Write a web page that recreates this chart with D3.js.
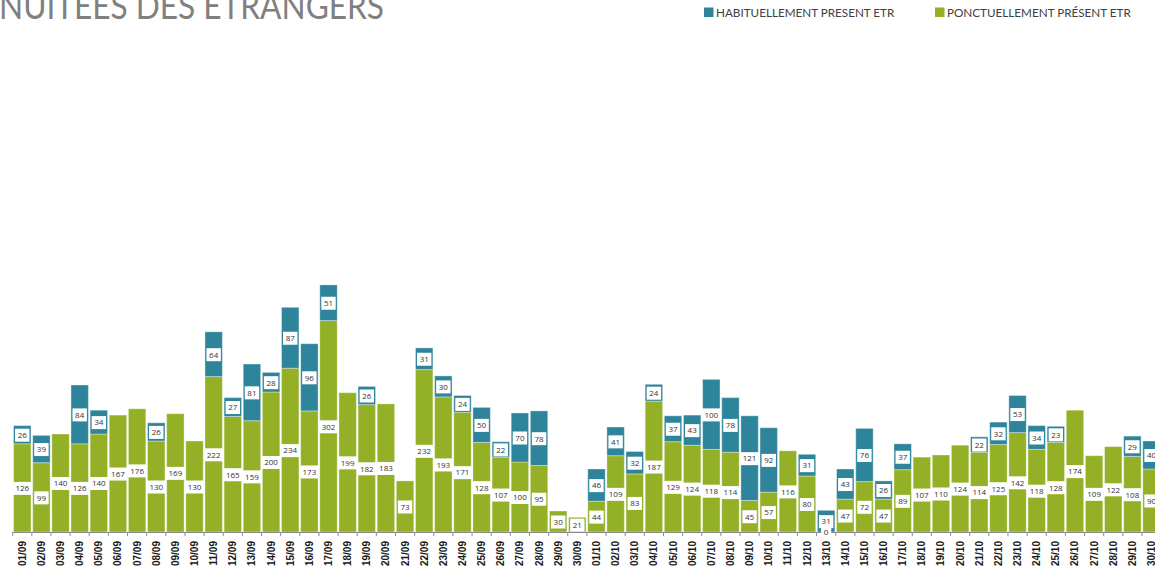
<!DOCTYPE html>
<html>
<head>
<meta charset="utf-8">
<script src="https://cdn.jsdelivr.net/npm/d3@7/dist/d3.min.js"></script>
<style>
  html, body { margin: 0; padding: 0; background: #fff; overflow: hidden; }
  svg { display: block; }
</style>
</head>
<body>
<svg id="chart" width="1155" height="570"></svg>
<script>
const dates = ["01/09","02/09","03/09","04/09","05/09","06/09","07/09","08/09","09/09","10/09",
  "11/09","12/09","13/09","14/09","15/09","16/09","17/09","18/09","19/09","20/09",
  "21/09","22/09","23/09","24/09","25/09","26/09","27/09","28/09","29/09","30/09",
  "01/10","02/10","03/10","04/10","05/10","06/10","07/10","08/10","09/10","10/10",
  "11/10","12/10","13/10","14/10","15/10","16/10","17/10","18/10","19/10","20/10",
  "21/10","22/10","23/10","24/10","25/10","26/10","27/10","28/10","29/10","30/10"];

const ponctuel = [126,99,140,126,140,167,176,130,169,130,
  222,165,159,200,234,173,302,199,182,183,
  73,232,193,171,128,107,100,95,30,21,
  44,109,83,187,129,124,118,114,45,57,
  116,80,0,47,72,47,89,107,110,124,
  114,125,142,118,128,174,109,122,108,90];

const habituel = [26,39,0,84,34,0,0,26,0,0,
  64,27,81,28,87,96,51,0,26,0,
  0,31,30,24,50,22,70,78,0,0,
  46,41,32,24,37,43,100,78,121,92,
  0,31,31,43,76,26,37,0,0,0,
  22,32,53,34,23,0,0,0,29,40];

const seriesNames = ["HABITUELLEMENT PRESENT ETR", "PONCTUELLEMENT PRÉSENT ETR"];
const colors = { hab: "#2E859B", ponc: "#93B026" };
const title = "NUITÉES DES ÉTRANGERS";

const svg = d3.select("#chart");
const baseY = 532;
const y = d3.scaleLinear().domain([0, 700]).range([baseY, 42]);
const step = 19.14;
const x0 = 12.7;
const x = d3.scaleBand().domain(dates).range([x0, x0 + step * dates.length])
  .paddingInner(0.09).paddingOuter(0.045);

const rows = dates.map((d, i) => ({ date: d, ponc: ponctuel[i], hab: habituel[i] }));

// Title
svg.append("text")
  .attr("x", -1).attr("y", 19)
  .attr("font-family", "Lato, 'Open Sans', sans-serif")
  .attr("font-size", 36)
  .attr("fill", "#808080")
  .attr("textLength", 385)
  .attr("lengthAdjust", "spacingAndGlyphs")
  .text(title);

// Legend
const legend = [
  { name: seriesNames[0], color: colors.hab, x: 704 },
  { name: seriesNames[1], color: colors.ponc, x: 935 }
];
const lg = svg.append("g");
legend.forEach(l => {
  lg.append("rect").attr("x", l.x).attr("y", 7.5).attr("width", 9.5).attr("height", 9.5).attr("fill", l.color);
  lg.append("text").attr("x", l.x + 12).attr("y", 16.5)
    .attr("font-family", "Lato, 'Open Sans', sans-serif")
    .attr("font-size", 11.7).attr("fill", "#404040")
    .text(l.name);
});

// Bars
const g = svg.append("g");
const barG = g.selectAll("g.bar").data(rows).join("g").attr("class", "bar");

barG.append("rect")
  .attr("x", d => x(d.date))
  .attr("width", x.bandwidth())
  .attr("y", d => y(d.ponc))
  .attr("height", d => baseY - y(d.ponc))
  .attr("fill", colors.ponc)
  .attr("stroke", "rgba(255,255,255,0.35)")
  .attr("stroke-width", 1);

barG.filter(d => d.hab > 0).append("rect")
  .attr("x", d => x(d.date))
  .attr("width", x.bandwidth())
  .attr("y", d => y(d.ponc + d.hab))
  .attr("height", d => y(d.ponc) - y(d.ponc + d.hab))
  .attr("fill", colors.hab)
  .attr("stroke", "rgba(255,255,255,0.35)")
  .attr("stroke-width", 1);

// Axis line and ticks
const axisG = svg.append("g");
axisG.append("line")
  .attr("x1", x0).attr("x2", x0 + step * dates.length)
  .attr("y1", baseY + 0.5).attr("y2", baseY + 0.5)
  .attr("stroke", "#8c8c8c").attr("stroke-width", 1);
const tickPos = d3.range(dates.length + 1).map(i => x0 + i * step);
axisG.selectAll("line.tick").data(tickPos).join("line")
  .attr("class", "tick")
  .attr("x1", d => d).attr("x2", d => d)
  .attr("y1", baseY).attr("y2", baseY + 4)
  .attr("stroke", "#8c8c8c").attr("stroke-width", 1);

axisG.selectAll("text.xl").data(dates).join("text")
  .attr("class", "xl")
  .attr("transform", d => `translate(${x(d) + x.bandwidth() / 2},541) rotate(-90)`)
  .attr("text-anchor", "end")
  .attr("dy", "0.35em")
  .attr("font-family", "'Liberation Sans', Arial, sans-serif")
  .attr("font-weight", "bold")
  .attr("font-size", 10)
  .attr("fill", "#1a1a1a")
  .text(d => d);

// Data labels
function addLabel(cx, cy, val) {
  const s = String(val);
  const w = s.length * 4.2 + 6;
  const lgp = svg.append("g");
  lgp.append("rect")
    .attr("x", cx - w / 2).attr("y", cy - 6.5)
    .attr("width", w).attr("height", 13)
    .attr("fill", "#fff");
  lgp.append("text")
    .attr("x", cx).attr("y", cy)
    .attr("dy", "0.35em")
    .attr("text-anchor", "middle")
    .attr("font-family", "'Open Sans', 'Liberation Sans', sans-serif")
    .attr("font-size", 8)
    .attr("fill", "#333")
    .text(s);
}
rows.forEach(d => {
  const cx = x(d.date) + x.bandwidth() / 2;
  addLabel(cx, (y(0) + y(d.ponc)) / 2 + 0.5, d.ponc);
  if (d.hab > 0) addLabel(cx, (y(d.ponc) + y(d.ponc + d.hab)) / 2 + 0.5, d.hab);
});
</script>
</body>
</html>
